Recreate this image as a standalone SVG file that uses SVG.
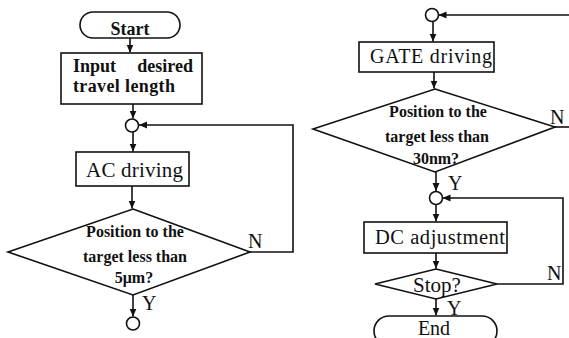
<svg xmlns="http://www.w3.org/2000/svg" width="569" height="338" viewBox="0 0 569 338">
<style>
.s{fill:#fff;stroke:#111;stroke-width:1.6}
.c{fill:none;stroke:#111;stroke-width:1.6}
.t{font-family:"Liberation Serif","Times New Roman",serif;fill:#111}
.b{font-weight:bold}
.m{text-anchor:middle}
</style>
<defs>
<marker id="ah" markerUnits="userSpaceOnUse" markerWidth="8" markerHeight="8" refX="8" refY="4" orient="auto" viewBox="0 0 8 8">
<path d="M0,0.5 L8,4 L0,7.5 z" fill="#111"/>
</marker>
</defs>
<rect width="569" height="338" fill="#fff"/>
<g id="connectors" class="c">
<path d="M130,38 V52.5" marker-end="url(#ah)"/>
<path d="M133,104 V118.5" marker-end="url(#ah)"/>
<path d="M133,132 V151.5" marker-end="url(#ah)"/>
<path d="M132,186 V208.5" marker-end="url(#ah)"/>
<path d="M250,252 H293 V125 H139" marker-end="url(#ah)"/>
<path d="M133,295 V316.5" marker-end="url(#ah)"/>
<path d="M569,15 H438.5" marker-end="url(#ah)"/>
<path d="M433,21.5 V41.5" marker-end="url(#ah)"/>
<path d="M434,72 V88.5" marker-end="url(#ah)"/>
<path d="M555,127 H569"/>
<path d="M436,172 V191" marker-end="url(#ah)"/>
<path d="M497,284 H563 V198 H442.5" marker-end="url(#ah)"/>
<path d="M436,204.5 V221.5" marker-end="url(#ah)"/>
<path d="M436,253 V268.5" marker-end="url(#ah)"/>
<path d="M436,299 V315.5" marker-end="url(#ah)"/>
</g>
<g id="start">
<rect class="s" x="80" y="12" width="100" height="26" rx="13"/>
<text class="t b m" x="130" y="35" font-size="18">Start</text>
</g>
<g id="input">
<rect class="s" x="61" y="53" width="141" height="51"/>
<text class="t b" x="73" y="72" font-size="18">Input</text>
<text class="t b" x="193" y="72" font-size="18" text-anchor="end">desired</text>
<text class="t b" x="73" y="92" font-size="18" textLength="102">travel length</text>
</g>
<g id="junction1"><circle class="s" cx="132" cy="125.5" r="6.5"/></g>
<g id="ac-driving">
<rect class="s" x="76" y="152" width="113" height="34"/>
<text class="t m" x="134.5" y="177" font-size="21" textLength="97">AC driving</text>
</g>
<g id="decision1">
<polygon class="s" points="133,209 250,252 133,295 8,252"/>
<text class="t b m" x="135" y="237" font-size="16">Position to the</text>
<text class="t b m" x="135" y="262" font-size="16">target less than</text>
<text class="t b m" x="134" y="283" font-size="16">5μm?</text>
<text class="t" x="248" y="248" font-size="20">N</text>
<text class="t" x="142" y="310" font-size="20">Y</text>
</g>
<g id="junction2"><circle class="s" cx="133" cy="323.5" r="6.5"/></g>
<g id="junction3"><circle class="s" cx="432" cy="15" r="6.5"/></g>
<g id="gate-driving">
<rect class="s" x="359" y="42" width="135" height="30"/>
<text class="t m" x="431" y="63" font-size="20" textLength="122">GATE driving</text>
</g>
<g id="decision2">
<polygon class="s" points="435,89 555,127 435,172 313,129"/>
<text class="t b m" x="438" y="117" font-size="16">Position to the</text>
<text class="t b m" x="437" y="142" font-size="16">target less than</text>
<text class="t b m" x="436" y="164" font-size="16">30nm?</text>
<text class="t" x="550" y="124" font-size="20">N</text>
<text class="t" x="448" y="190" font-size="20">Y</text>
</g>
<g id="junction4"><circle class="s" cx="436" cy="198" r="6.5"/></g>
<g id="dc-adjustment">
<rect class="s" x="364" y="222" width="143" height="31"/>
<text class="t m" x="440" y="244" font-size="20.5" textLength="130">DC adjustment</text>
</g>
<g id="stop">
<polygon class="s" points="436,269 497,284 436,299 375,284"/>
<text class="t m" x="437" y="292" font-size="21">Stop?</text>
<text class="t" x="547" y="280" font-size="20">N</text>
<text class="t" x="447" y="315" font-size="20">Y</text>
</g>
<g id="end">
<rect class="s" x="374" y="316" width="123" height="30" rx="15"/>
<text class="t m" x="434" y="335" font-size="20">End</text>
</g>
</svg>
